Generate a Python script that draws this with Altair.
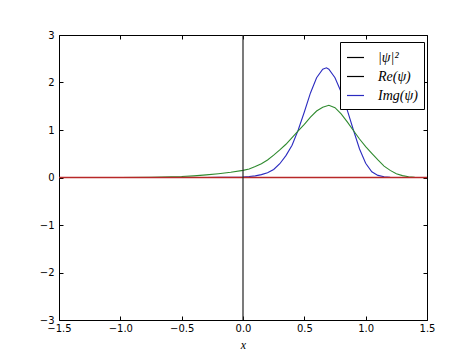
import altair as alt
import pandas as pd

# ---- data ----
xs_blue = [-1.5, -1.0, -0.5, -0.3, -0.2, -0.1, 0.0, 0.05, 0.1, 0.15, 0.2, 0.25, 0.3, 0.35,
           0.4, 0.45, 0.5, 0.55, 0.6, 0.65, 0.68, 0.7, 0.75, 0.8, 0.85, 0.9, 0.95, 1.0,
           1.05, 1.1, 1.15, 1.2, 1.25, 1.3, 1.5]
ys_blue = [0, 0, 0, 0.0, 0.002, 0.005, 0.01, 0.02, 0.035, 0.06, 0.1, 0.17, 0.29, 0.46,
           0.68, 1.0, 1.38, 1.78, 2.1, 2.28, 2.31, 2.28, 2.1, 1.8, 1.42, 1.0, 0.6, 0.3,
           0.12, 0.045, 0.015, 0.005, 0.0, 0.0, 0.0]

xs_green = [-1.5, -1.0, -0.75, -0.5, -0.4, -0.3, -0.2, -0.1, 0.0, 0.05, 0.1, 0.15, 0.2,
            0.25, 0.3, 0.35, 0.4, 0.45, 0.5, 0.55, 0.6, 0.65, 0.7, 0.75, 0.8, 0.85, 0.9,
            0.95, 1.0, 1.05, 1.1, 1.15, 1.2, 1.25, 1.3, 1.35, 1.4, 1.5]
ys_green = [0, 0.0, 0.005, 0.02, 0.035, 0.055, 0.08, 0.11, 0.15, 0.18, 0.23, 0.29, 0.37,
            0.47, 0.58, 0.7, 0.84, 0.98, 1.12, 1.27, 1.4, 1.48, 1.52, 1.47, 1.34, 1.17, 0.99,
            0.81, 0.65, 0.51, 0.37, 0.24, 0.15, 0.08, 0.04, 0.015, 0.005, 0.0]

xs_red = [-1.5, 1.5]
ys_red = [0, 0]
x_vline = [0]

legend_labels = ["|ψ|²", "Re(ψ)", "Img(ψ)"]
x_ticks = [-1.5, -1.0, -0.5, 0.0, 0.5, 1.0, 1.5]
y_ticks = [-3, -2, -1, 0, 1, 2, 3]

BLUE = "#2b2bc0"
GREEN = "#2f8a2f"
RED = "#b82828"
W, H = 368, 285

blue_df = pd.DataFrame({"x": xs_blue, "y": ys_blue, "series": legend_labels[2]})
green_df = pd.DataFrame({"x": xs_green, "y": ys_green})
red_df = pd.DataFrame({"x": xs_red, "y": ys_red})
vline_df = pd.DataFrame({"x": x_vline})

xs = alt.Scale(domain=[-1.5, 1.5], nice=False, zero=False)
ys = alt.Scale(domain=[-3, 3], nice=False, zero=False)

common_tick = dict(grid=False, labels=False, domain=False, ticks=True, tickSize=4,
                   tickColor="black", tickWidth=1, title=None)

# main axes with labels
x_main = alt.Axis(orient="bottom", values=x_ticks, format=".1f", grid=False, ticks=False,
                  tickSize=0, domain=False, labelFont="DejaVu Sans", labelFontSize=10,
                  labelColor="black", labelPadding=3, labelFlush=False, labelOverlap=False,
                  title="x", titleFont="Liberation Serif", titleFontStyle="italic",
                  titleFontWeight="normal", titleFontSize=12, titleColor="black",
                  titlePadding=6)
y_main = alt.Axis(orient="left", values=y_ticks, format="d", grid=False, ticks=False,
                  tickSize=0, domain=False, labelFont="DejaVu Sans", labelFontSize=10,
                  labelColor="black", labelPadding=5, labelFlush=False, labelOverlap=False,
                  title=None)

blue = alt.Chart(blue_df).mark_line(strokeWidth=1.1, clip=True).encode(
    x=alt.X("x:Q", scale=xs, axis=x_main),
    y=alt.Y("y:Q", scale=ys, axis=y_main),
    color=alt.Color("series:N",
                    scale=alt.Scale(domain=legend_labels, range=["black", "black", BLUE]),
                    legend=alt.Legend(orient="none", legendX=281, legendY=7, title=None,
                                      symbolType="stroke", symbolSize=289,
                                      symbolStrokeWidth=1.2,
                                      labelFont="Liberation Serif", labelFontStyle="italic",
                                      labelFontSize=14, labelColor="black",
                                      fillColor="white", strokeColor="black",
                                      padding=6, rowPadding=2, labelOffset=13,
                                      cornerRadius=0)),
)

green = alt.Chart(green_df).mark_line(strokeWidth=1.1, color=GREEN, clip=True).encode(
    x=alt.X("x:Q", scale=xs, axis=alt.Axis(orient="top", offset=-H, values=x_ticks, **common_tick)),
    y=alt.Y("y:Q", scale=ys, axis=alt.Axis(orient="right", offset=-W, values=y_ticks, **common_tick)),
)

red = alt.Chart(red_df).mark_line(strokeWidth=1.6, color=RED, clip=True).encode(
    x=alt.X("x:Q", scale=xs, axis=alt.Axis(orient="bottom", offset=-H, values=x_ticks, **common_tick)),
    y=alt.Y("y:Q", scale=ys, axis=alt.Axis(orient="left", offset=-W, values=y_ticks, **common_tick)),
)

vline = alt.Chart(vline_df).mark_rule(strokeWidth=1.2, color="#222222").encode(
    x=alt.X("x:Q", scale=xs, axis=None),
)

chart = alt.layer(blue, green, red, vline).resolve_scale(
    x="shared", y="shared"
).resolve_axis(
    x="independent", y="independent"
).properties(
    width=W, height=H,
    autosize=alt.AutoSizeParams(type="none"),
    padding={"left": 59, "top": 35, "right": 47, "bottom": 35},
    background="white",
).configure_view(stroke="black", strokeWidth=1)

chart.save("out.html", embed_options={"renderer": "svg", "actions": False})
